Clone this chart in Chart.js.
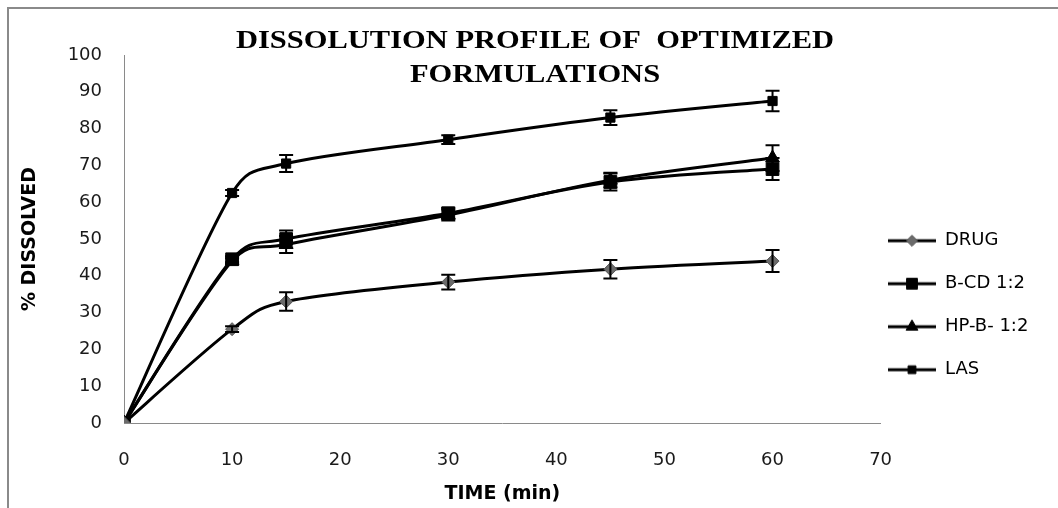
<!DOCTYPE html>
<html>
<head>
<meta charset="utf-8">
<script src="https://cdn.jsdelivr.net/npm/chart.js@4.4.1/dist/chart.umd.min.js"></script>
<style>
  html, body { margin: 0; padding: 0; background: #fff; }
  #wrap { position: relative; width: 1058px; height: 508px; overflow: hidden; }
  #frame { position: absolute; left: 7px; top: 7px; width: 1060px; height: 510px;
           border-left: 2px solid #8a8a8a; border-top: 2px solid #8a8a8a; }
  canvas { position: absolute; left: 0; top: 0; }
</style>
</head>
<body>
<div id="wrap">
  <div id="frame"></div>
  <canvas id="chart" width="1058" height="508"></canvas>
</div>
<script>
// time points (min)
const times = [0, 10, 15, 30, 45, 60];

// % dissolved
const drug    = [0, 25.5, 33.0, 38.3, 41.8, 44.0];
const drugErr = [0, 0.8, 2.5, 2.0, 2.5, 3.0];
const bcd     = [0, 44.5, 50.0, 57.0, 65.5, 69.0];
const bcdErr  = [0, 0.8, 2.3, 1.5, 2.3, 3.0];
const hpb     = [0, 44.0, 48.5, 56.5, 66.0, 72.0];
const hpbErr  = [0, 0.8, 2.3, 1.5, 2.0, 3.5];
const las     = [0, 62.5, 70.5, 77.0, 83.0, 87.5];
const lasErr  = [0, 0.8, 2.3, 1.2, 2.0, 2.8];

const seriesNames = ['DRUG', 'B-CD 1:2', 'HP-B- 1:2', 'LAS'];
const xTickValues = [0, 10, 20, 30, 40, 50, 60, 70];
const yTickValues = [0, 10, 20, 30, 40, 50, 60, 70, 80, 90, 100];
const titleLines = ['DISSOLUTION PROFILE OF  OPTIMIZED', 'FORMULATIONS'];

const tickFont = { family: 'DejaVu Sans', size: 18 };
const axisTitleFont = { family: 'DejaVu Sans', size: 19, weight: 'bold' };

function toPoints(values) {
  return times.map((t, i) => ({ x: t, y: values[i] }));
}

// marker styles per series
const markers = [
  { style: 'rectRot', radius: 6.5, fill: '#6b6b6b', border: '#555555' },
  { style: 'rect', radius: 9, fill: '#000000', border: '#000000' },
  { style: 'triangle', radius: 8, fill: '#000000', border: '#000000' },
  { style: 'rect', radius: 6.5, fill: '#000000', border: '#000000' }
];

// little line+marker pictures for the legend
function legendIcon(m) {
  const c = document.createElement('canvas');
  c.width = 48; c.height = 18;
  const g = c.getContext('2d');
  g.strokeStyle = '#000';
  g.lineWidth = 3;
  g.beginPath(); g.moveTo(0, 9); g.lineTo(48, 9); g.stroke();
  g.fillStyle = m.fill;
  g.strokeStyle = m.border;
  g.lineWidth = 1;
  Chart.helpers.drawPoint(g, { pointStyle: m.style, radius: m.radius * 0.85, rotation: 0, borderWidth: 1 }, 24, 9);
  return c;
}

const seriesValues = [drug, bcd, hpb, las];
const seriesErrors = [drugErr, bcdErr, hpbErr, lasErr];

const datasets = seriesNames.map((name, i) => ({
  label: name,
  data: toPoints(seriesValues[i]),
  errors: seriesErrors[i],
  borderColor: '#000',
  borderWidth: 3,
  tension: 0.3,
  pointStyle: markers[i].style,
  pointRadius: markers[i].radius,
  pointBackgroundColor: markers[i].fill,
  pointBorderColor: markers[i].border,
  pointBorderWidth: 1,
  fill: false
}));

// Excel-like smoothing: Catmull-Rom tangents (1/6 of the neighbour chord),
// clipped so a handle never runs past half of its own segment
function clipHandle(dx, dy, segLen) {
  const len = Math.hypot(dx, dy);
  const cap = segLen * 0.5;
  if (len <= cap || len === 0) return [dx, dy];
  return [dx * cap / len, dy * cap / len];
}

const excelSmooth = {
  id: 'excelSmooth',
  beforeDatasetDraw(chart, args) {
    const meta = args.meta;
    meta.dataset.updateControlPoints(chart.chartArea, 'x');
    const pts = meta.data;
    pts.forEach((p, i) => {
      const prev = pts[Math.max(i - 1, 0)];
      const next = pts[Math.min(i + 1, pts.length - 1)];
      const dx = (next.x - prev.x) / 6;
      const dy = (next.y - prev.y) / 6;
      const back = clipHandle(dx, dy, Math.hypot(p.x - prev.x, p.y - prev.y));
      const fwd = clipHandle(dx, dy, Math.hypot(next.x - p.x, next.y - p.y));
      p.cp1x = p.x - back[0]; p.cp1y = p.y - back[1];
      p.cp2x = p.x + fwd[0]; p.cp2y = p.y + fwd[1];
    });
  }
};

const errorBars = {
  id: 'errorBars',
  afterDatasetsDraw(chart) {
    const ctx = chart.ctx;
    const yScale = chart.scales.y;
    chart.data.datasets.forEach((ds, i) => {
      const meta = chart.getDatasetMeta(i);
      ctx.save();
      ctx.strokeStyle = '#000';
      ctx.lineWidth = 2;
      meta.data.forEach((pt, j) => {
        const e = ds.errors[j];
        if (!e) return;
        const v = ds.data[j].y;
        const top = yScale.getPixelForValue(v + e);
        const bot = yScale.getPixelForValue(v - e);
        ctx.beginPath();
        ctx.moveTo(pt.x, top); ctx.lineTo(pt.x, bot);
        ctx.moveTo(pt.x - 7, top); ctx.lineTo(pt.x + 7, top);
        ctx.moveTo(pt.x - 7, bot); ctx.lineTo(pt.x + 7, bot);
        ctx.stroke();
      });
      ctx.restore();
    });
  }
};

// Excel-style title sitting over the plot
const overlayTitle = {
  id: 'overlayTitle',
  afterDraw(chart) {
    const ctx = chart.ctx;
    ctx.save();
    ctx.fillStyle = '#000';
    ctx.font = 'bold 25px "Liberation Serif"';
    ctx.textAlign = 'center';
    ctx.textBaseline = 'alphabetic';
    const baselines = [48, 82];
    titleLines.forEach((line, i) => {
      ctx.save();
      ctx.translate(535, baselines[i]);
      ctx.scale(1.22, 1);
      ctx.fillText(line, 0, 0);
      ctx.restore();
    });
    ctx.restore();
  }
};

// move the legend items to sit next to the plot like the original
const legendShift = {
  id: 'legendShift',
  afterLayout(chart) {
    const lg = chart.legend;
    const pad = lg.options.labels.padding;
    const dx = 888 - pad - lg.left;
    lg.left += dx;
    lg.right += dx;
  }
};

new Chart(document.getElementById('chart'), {
  type: 'line',
  data: { datasets },
  options: {
    responsive: false,
    animation: false,
    layout: { padding: { left: 10, top: 55, right: 2, bottom: 0 } },
    plugins: {
      title: { display: false },
      tooltip: { enabled: false },
      legend: {
        position: 'right',
        align: 'center',
        title: { display: true, text: '', padding: { top: 33, bottom: 0 } },
        labels: {
          usePointStyle: true,
          pointStyleWidth: 48,
          padding: 25,
          color: '#000',
          font: { family: 'DejaVu Sans', size: 18 },
          generateLabels(chart) {
            return chart.data.datasets.map((ds, i) => ({
              text: ds.label,
              pointStyle: legendIcon(markers[i]),
              fillStyle: '#000',
              strokeStyle: '#000',
              lineWidth: 0,
              fontColor: '#000',
              hidden: false,
              datasetIndex: i
            }));
          }
        }
      }
    },
    scales: {
      x: {
        type: 'linear',
        min: 0,
        max: 70,
        afterBuildTicks(scale) { scale.ticks = xTickValues.map(v => ({ value: v })); },
        afterFit(scale) { scale.height = 85; },
        grid: { display: false, drawTicks: false },
        border: { display: true, color: '#8a8a8a', width: 1 },
        ticks: { font: tickFont, color: '#1a1a1a', padding: 27, maxRotation: 0 },
        title: { display: true, text: 'TIME (min)', font: axisTitleFont, color: '#000', padding: { top: 0, bottom: 3 } }
      },
      y: {
        min: 0,
        max: 100,
        afterBuildTicks(scale) { scale.ticks = yTickValues.map(v => ({ value: v })); },
        afterFit(scale) { scale.width = 114; },
        grid: { display: false, drawTicks: false },
        border: { display: true, color: '#8a8a8a', width: 1 },
        ticks: { font: tickFont, color: '#1a1a1a', padding: 22 },
        title: { display: true, text: '% DISSOLVED', font: axisTitleFont, color: '#000', padding: { top: 9, bottom: 0 } }
      }
    }
  },
  plugins: [excelSmooth, errorBars, overlayTitle, legendShift]
});
</script>
</body>
</html>
